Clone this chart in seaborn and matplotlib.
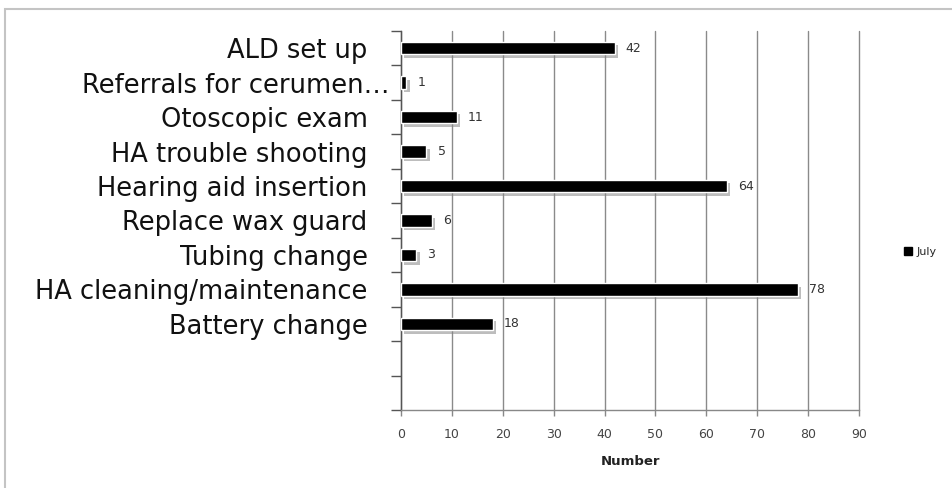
import matplotlib
matplotlib.use("Agg")
import matplotlib.pyplot as plt
import matplotlib.patheffects as pe
from matplotlib.patches import Rectangle, Patch
from matplotlib.ticker import FixedLocator
import numpy as np
import pandas as pd
import seaborn as sns

categories = ["ALD set up", "Referrals for cerumen\u2026", "Otoscopic exam",
              "HA trouble shooting", "Hearing aid insertion", "Replace wax guard",
              "Tubing change", "HA cleaning/maintenance", "Battery change", " ", "  "]
july = [42, 1, 11, 5, 64, 6, 3, 78, 18, np.nan, np.nan]
x_ticks = [0, 10, 20, 30, 40, 50, 60, 70, 80, 90]
series_name = "July"

df = pd.DataFrame({"Task": categories, "Number": july})

sns.set_theme(style="white")
plt.rcParams["font.family"] = ["DejaVu Sans"]

fig = plt.figure(figsize=(9.52, 4.88), dpi=100)
ax = fig.add_axes([401/952, 1-410/488, (859-401)/952, (410-31)/488])

sns.barplot(data=df, y="Task", x="Number", order=categories, color="black",
            width=0.36, ax=ax, errorbar=None, zorder=3)

for p in ax.patches:
    p.set_path_effects([pe.SimplePatchShadow(offset=(2.5, -2.5), shadow_rgbFace="#888888", alpha=0.55),
                        pe.Normal()])

for cont in ax.containers:
    labels = ["" if np.isnan(v) else f"{int(v)}" for v in cont.datavalues]
    ax.bar_label(cont, labels=labels, padding=8, fontsize=9, color="#333333")

ax.set_xlim(0, 90)
ax.set_ylim(len(categories) - 0.5, -0.5)
ax.set_xticks(x_ticks)
ax.set_xticklabels([str(t) for t in x_ticks], fontsize=9, color="#444444")
ax.tick_params(axis="x", length=4, width=1, color="#888888", direction="out", pad=9, bottom=True)
ax.tick_params(axis="y", which="major", length=0, pad=24, labelsize=18.5, labelcolor="#111111")
ax.yaxis.set_minor_locator(FixedLocator(np.arange(-0.5, len(categories), 1.0)))
ax.tick_params(axis="y", which="minor", length=7, width=1, color="#555555", direction="out", left=True)
ax.set_ylabel("")
ax.set_xlabel("Number", fontsize=9.5, fontweight="bold", color="#222222", labelpad=10)

ax.grid(axis="x", color="#8a8a8a", linewidth=1, zorder=0)
ax.grid(axis="y", visible=False)
ax.set_axisbelow(True)
for gl in ax.get_xgridlines():
    gl.set_clip_on(False)
for s in ["top", "right"]:
    ax.spines[s].set_visible(False)
ax.spines["left"].set_color("#555555")
ax.spines["bottom"].set_color("#888888")
ax.spines["left"].set_linewidth(1)
ax.spines["bottom"].set_linewidth(1)

# the truncated label sits closer to the axis, as in the reference
for i, tk in enumerate(ax.yaxis.get_major_ticks()):
    if categories[i].endswith("\u2026"):
        tk.set_pad(8)

leg = fig.legend(handles=[Patch(facecolor="black", edgecolor="black", label=series_name)],
                 loc="center left", bbox_to_anchor=(894/952, 1-252/488), frameon=False,
                 fontsize=8, handlelength=0.7, handleheight=0.7, handletextpad=0.4)

fig.patches.append(Rectangle((5/952, -0.1), 2.0, 1.1 - 9/488, transform=fig.transFigure,
                             fill=False, edgecolor="#c4c4c4", linewidth=1.5, zorder=0))

fig.savefig("out.png", dpi=100, facecolor="white")
